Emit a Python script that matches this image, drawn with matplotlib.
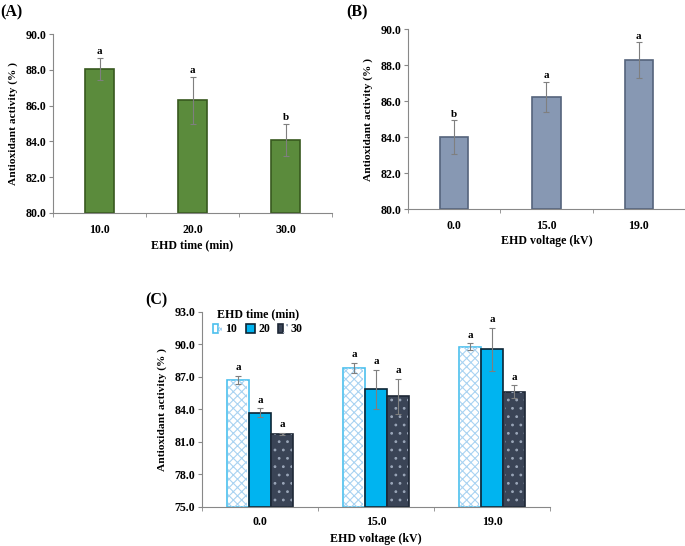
import matplotlib
matplotlib.use("Agg")
import matplotlib.pyplot as plt
import numpy as np
from matplotlib.legend_handler import HandlerTuple

plt.rcParams['font.family'] = ['Liberation Serif', 'DejaVu Serif']
plt.rcParams['font.weight'] = 'bold'
plt.rcParams['hatch.linewidth'] = 0.8

# ---- data ----
a_cats = ["10.0", "20.0", "30.0"]
a_vals = [88.05, 86.3, 84.1]
a_errs = [0.6, 1.3, 0.9]
a_lets = ["a", "a", "b"]

b_cats = ["0.0", "15.0", "19.0"]
b_vals = [84.0, 86.25, 88.27]
b_errs = [0.93, 0.83, 1.0]
b_lets = ["b", "a", "a"]

c_cats = ["0.0", "15.0", "19.0"]
c_series = ["10", "20", "30"]
c_vals = [[86.7, 87.8, 89.77],
          [83.68, 85.83, 89.53],
          [81.7, 85.2, 85.6]]
c_errs = [[0.38, 0.45, 0.3],
          [0.4, 1.8, 2.0],
          [0.08, 1.6, 0.6]]
c_lets = [["a", "a", "a"], ["a", "a", "a"], ["a", "a", "a"]]

fig = plt.figure(figsize=(6.85, 5.46), dpi=100)

TFS = 8.6
LFS = 8.6


def style_axes(ax, n, ylim, yticks, xpad):
    ax.set_xlim(0, n)
    ax.set_ylim(*ylim)
    ax.set_yticks(yticks)
    ax.set_yticklabels([f"{t:.1f}" for t in yticks], fontsize=TFS, fontweight='bold')
    ax.set_xticks(np.arange(n) + 0.5)
    ax.set_xticks(np.arange(n + 1), minor=True)
    ax.tick_params(axis='x', which='major', length=0, pad=xpad)
    ax.tick_params(axis='x', which='minor', length=3, direction='out', color='#888888')
    ax.tick_params(axis='y', length=3, direction='out', color='#888888', pad=2)
    for s in ['top', 'right']:
        ax.spines[s].set_visible(False)
    for s in ['left', 'bottom']:
        ax.spines[s].set_color('#888888')
        ax.spines[s].set_linewidth(0.8)


def simple_panel(rect, cats, vals, errs, lets, face, edge, ylim, yticks, xlabel, tag, tagpos):
    ax = fig.add_axes(rect)
    x = np.arange(len(cats)) + 0.5
    ax.bar(x, [v - ylim[0] for v in vals], bottom=ylim[0], width=0.31, color=face,
           edgecolor=edge, linewidth=1.2, zorder=2)
    ax.errorbar(x, vals, yerr=errs, fmt='none', ecolor='#7f7f7f', elinewidth=0.8,
                capsize=2.5, capthick=0.8, zorder=3)
    for xi, v, e, l in zip(x, vals, errs, lets):
        ax.text(xi, v + e + 0.1, l, ha='center', va='bottom', fontsize=TFS - 0.6, fontweight='bold')
    style_axes(ax, len(cats), ylim, yticks, 8)
    ax.set_xticklabels(cats, fontsize=TFS, fontweight='bold')
    ax.set_xlabel(xlabel, fontsize=LFS, fontweight='bold', labelpad=2)
    ax.set_ylabel("Antioxidant activity (% )", fontsize=LFS - 0.4, fontweight='bold', labelpad=5)
    fig.text(tagpos[0], tagpos[1], tag, fontsize=11.5, fontweight='bold', ha='left', va='center')
    return ax


simple_panel([0.0774, 0.6099, 0.4073, 0.3278], a_cats, a_vals, a_errs, a_lets,
             '#5b8b3c', '#38591f', (80, 90), [80, 82, 84, 86, 88, 90],
             "EHD time (min)", "(A)", (0.0, 0.978))
simple_panel([0.5956, 0.6172, 0.4044, 0.3291], b_cats, b_vals, b_errs, b_lets,
             '#8798b3', '#55647c', (80, 90), [80, 82, 84, 86, 88, 90],
             "EHD voltage (kV)", "(B)", (0.505, 0.978))

# ---- panel C ----
axc = fig.add_axes([0.2949, 0.0720, 0.5080, 0.3571])
ylo = 75
xc = np.arange(len(c_cats)) + 0.5
w = 0.19
faces = ['white', '#00b4f0', '#3a4456']
edges = ['#4cc0ee', '#0d2535', '#1e2836']
hatches = ['xxxx', None, '..']
hcols = ['#a9d3f2', None, '#9aa6b8']
handles = []
for i in range(3):
    xi = xc + (i - 1) * w
    heights = [v - ylo for v in c_vals[i]]
    b1 = axc.bar(xi, heights, bottom=ylo, width=w, color=faces[i], edgecolor=edges[i],
                 linewidth=1.2, zorder=2)
    h = b1
    if hatches[i]:
        b2 = axc.bar(xi, heights, bottom=ylo, width=w * 0.86, color='none',
                     edgecolor=hcols[i], linewidth=0, hatch=hatches[i], zorder=2.5)
        h = (b1, b2)
    handles.append(h)
    axc.errorbar(xi, c_vals[i], yerr=c_errs[i], fmt='none', ecolor='#7f7f7f',
                 elinewidth=0.8, capsize=2.5, capthick=0.8, zorder=3)
    for xx, v, e, l in zip(xi, c_vals[i], c_errs[i], c_lets[i]):
        axc.text(xx, v + e + 0.35, l, ha='center', va='bottom', fontsize=TFS - 0.6, fontweight='bold')

style_axes(axc, len(c_cats), (75, 93), [75, 78, 81, 84, 87, 90, 93], 7)
axc.set_xticklabels(c_cats, fontsize=TFS, fontweight='bold')
axc.set_xlabel("EHD voltage (kV)", fontsize=LFS, fontweight='bold', va='center')
axc.xaxis.set_label_coords(0.5, -0.165)
axc.set_ylabel("Antioxidant activity (% )", fontsize=LFS - 0.4, fontweight='bold', labelpad=5)
fig.text(0.2117, 0.45, "(C)", fontsize=11.5, fontweight='bold', ha='left', va='center')

leg = axc.legend(handles, c_series, ncol=3, loc='upper left', bbox_to_anchor=(0.0, 1.075),
                 frameon=False, title="EHD time (min)", fontsize=TFS,
                 title_fontproperties={'weight': 'bold', 'size': TFS},
                 handlelength=0.8, handleheight=0.8, handletextpad=0.25, columnspacing=0.7,
                 labelspacing=0.3,
                 handler_map={tuple: HandlerTuple(ndivide=None, pad=0)})
leg._legend_box.align = "center"

fig.savefig("out.png", dpi=100)
